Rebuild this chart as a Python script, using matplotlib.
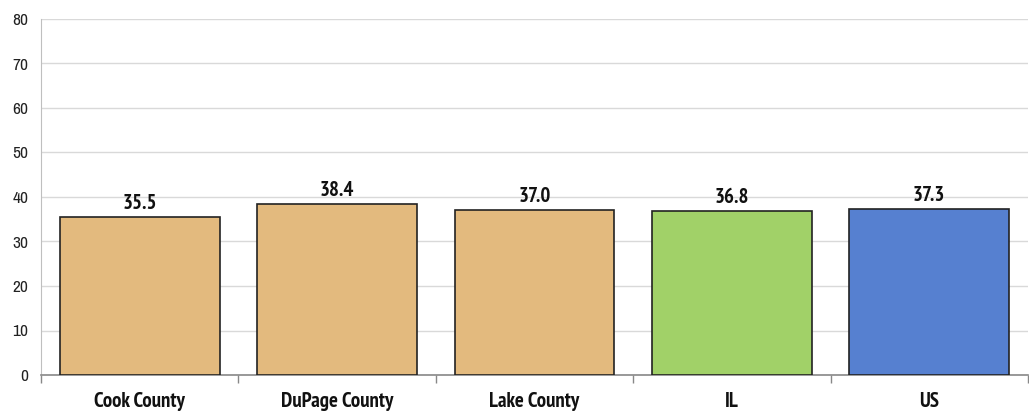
import matplotlib
matplotlib.use("Agg")
import matplotlib.pyplot as plt
from matplotlib import font_manager

categories = ["Cook County", "DuPage County", "Lake County", "IL", "US"]
values = [35.5, 38.4, 37.0, 36.8, 37.3]
colors = ["#E3BA7E", "#E3BA7E", "#E3BA7E", "#A1D168", "#5680D0"]
yticks = [0, 10, 20, 30, 40, 50, 60, 70, 80]

fonts = font_manager.fontManager.ttflist
names = {f.name for f in fonts}
bold_names = {f.name for f in fonts if (f.weight if isinstance(f.weight, int) else 400) >= 700
              or f.weight in ("bold",)}
cands = ["Liberation Sans Narrow", "Arial Narrow", "Archivo Narrow", "PT Sans Narrow",
         "Roboto Condensed", "Pragati Narrow", "Fira Sans Condensed"]
reg = [f for f in cands if f in names][:1] + ["Liberation Sans", "DejaVu Sans"]
bold = [f for f in cands if f in bold_names][:1] + ["Liberation Sans", "DejaVu Sans"]
plt.rcParams["font.family"] = reg

fig = plt.figure(figsize=(10.29, 4.11), dpi=100)
ax = fig.add_axes([41/1029, 36/411, 987/1029, 356/411])

x = list(range(len(categories)))
ax.bar(x, values, width=0.81, color=colors, edgecolor="#222222", linewidth=1.2, zorder=3)
for xi, v in zip(x, values):
    ax.text(xi, v + 0.9, f"{v:.1f}", ha="center", va="bottom", fontsize=15,
            fontweight="bold", family=bold, color="#111111")

ax.set_xlim(-0.5, len(categories) - 0.5)
ax.set_ylim(0, 80)
ax.set_yticks(yticks)
ax.set_yticklabels([str(t) for t in yticks], fontsize=12.5)
ax.yaxis.grid(True, color="#D9D9D9", linewidth=1, zorder=0)
ax.tick_params(axis="y", length=0, pad=9, labelcolor="#222222")

ax.set_xticks(x)
ax.set_xticklabels(categories, fontsize=15, fontweight="bold", family=bold, color="#111111")
ax.tick_params(axis="x", length=0, pad=12)
ax.set_xticks([i - 0.5 for i in range(len(categories) + 1)], minor=True)
ax.tick_params(axis="x", which="minor", length=6, color="#888888", width=1)

for s in ["top", "right"]:
    ax.spines[s].set_visible(False)
ax.spines["left"].set_color("#BFBFBF")
ax.spines["bottom"].set_color("#888888")
ax.spines["bottom"].set_linewidth(1.2)

fig.savefig("out.png", dpi=100)
